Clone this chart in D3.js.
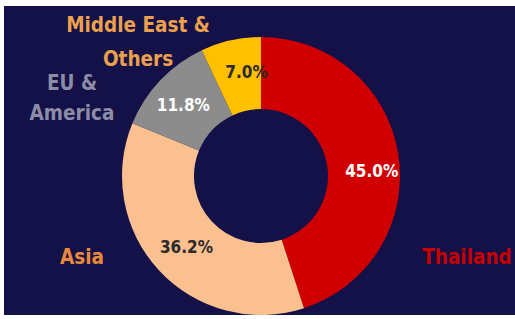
<!DOCTYPE html>
<html><head><meta charset="utf-8">
<script src="https://cdn.jsdelivr.net/npm/d3@7"></script>
<style>html,body{margin:0;padding:0;background:#fff;}svg{display:block;}</style>
</head><body>
<svg id="c" width="515" height="319"></svg>
<script>
const categories = ["Thailand", "Asia", "EU & America", "Middle East & Others"];
const values = [45.0, 36.2, 11.8, 7.0];
const labelLines = [["Thailand"], ["Asia"], ["EU &", "America"], ["Middle East &", "Others"]];
const colors = ["#d10000", "#fbc08f", "#8c8c8c", "#ffc000"];
const pctColors = ["#ffffff", "#2a2a2a", "#ffffff", "#2a2a2a"];
const nameColors = ["#c40000", "#e9893b", "#8d8ca6", "#eba04e"];
const namePos = [[467, 257], [82, 257], [72, 83, 113], [138, 25, 59]];
const pctNudge = [[9, 11], [1, 1], [-3, 0], [8, -3]];

const svg = d3.select("#c");
svg.append("rect").attr("x", 4).attr("y", 6).attr("width", 511).attr("height", 309).attr("fill", "#141048");
const cx = 261, cy = 176, R = 139, r = 67;
const g = svg.append("g").attr("transform", `translate(${cx},${cy})`);
const pie = d3.pie().sort(null).value(d => d)(values);
const arc = d3.arc().innerRadius(r).outerRadius(R);
g.selectAll("path").data(pie).join("path").attr("d", arc).attr("fill", (d, i) => colors[i]);
const font = "'DejaVu Sans Condensed', 'DejaVu Sans', sans-serif";
g.selectAll("text.pct").data(pie).join("text").attr("class", "pct")
  .attr("transform", (d, i) => { const c = arc.centroid(d); return `translate(${c[0] + pctNudge[i][0]},${c[1] + pctNudge[i][1]})`; })
  .attr("text-anchor", "middle").attr("dominant-baseline", "central")
  .attr("font-family", font).attr("font-weight", "bold").attr("font-size", 17)
  .attr("fill", (d, i) => pctColors[i]).text(d => d.data.toFixed(1) + "%");
categories.forEach((c, i) => {
  const p = namePos[i];
  const t = svg.append("text").attr("text-anchor", "middle").attr("font-family", font)
    .attr("font-weight", "bold").attr("font-size", 20.5).attr("fill", nameColors[i]);
  labelLines[i].forEach((ln, j) => {
    t.append("tspan").attr("x", p[0]).attr("y", p[1 + j]).attr("dominant-baseline", "central").text(ln);
  });
});
</script>
</body></html>
